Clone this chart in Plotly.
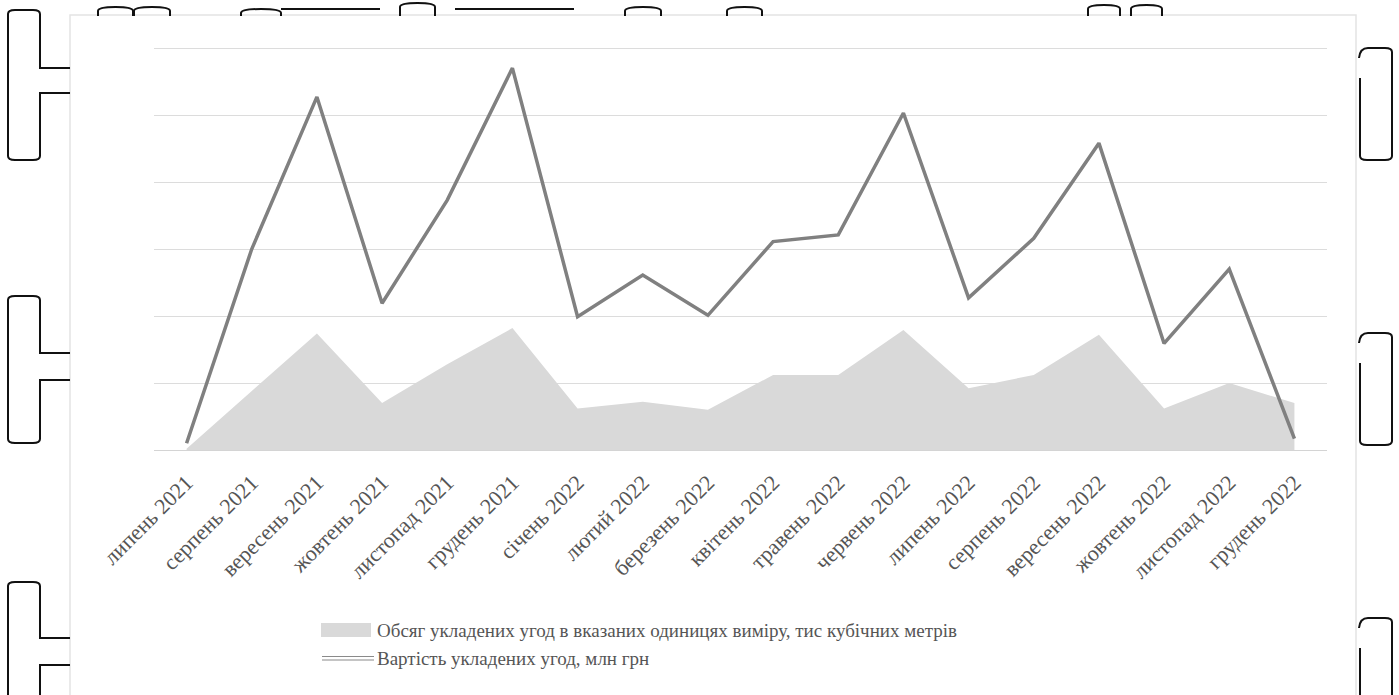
import plotly.graph_objects as go

W, H = 1399, 695

months = [
    "липень 2021", "серпень 2021", "вересень 2021", "жовтень 2021",
    "листопад 2021", "грудень 2021", "січень 2022", "лютий 2022",
    "березень 2022", "квітень 2022", "травень 2022", "червень 2022",
    "липень 2022", "серпень 2022", "вересень 2022", "жовтень 2022",
    "листопад 2022", "грудень 2022",
]

# Обсяг укладених угод, тис кубічних метрів (area series)
volume = [0.02, 0.88, 1.74, 0.70, 1.28, 1.82, 0.62, 0.72, 0.60,
          1.12, 1.12, 1.79, 0.92, 1.12, 1.72, 0.62, 1.00, 0.70]

# Вартість укладених угод, млн грн (line series)
value = [0.10, 3.00, 5.27, 2.19, 3.73, 5.70, 1.99, 2.61, 2.01,
         3.11, 3.21, 5.03, 2.27, 3.16, 4.58, 1.59, 2.70, 0.17]

volume_name = "Обсяг укладених угод в вказаних одиницях виміру, тис кубічних метрів"
value_name = "Вартість укладених угод, млн грн"

FONT = "Liberation Serif"
TEXT_GRAY = "#555555"
AREA_GRAY = "#d9d9d9"
LINE_GRAY = "#808080"

Y_MAX = 6.02  # a little headroom so the top gridline at 6 is drawn


def px(x):
    return x / W


def py(y):
    return 1 - y / H


fig = go.Figure()
fig.add_trace(go.Scatter(
    x=months, y=volume, name=volume_name, mode="lines",
    line=dict(width=0, color=AREA_GRAY), fill="tozeroy", fillcolor=AREA_GRAY,
))
fig.add_trace(go.Scatter(
    x=months, y=value, name=value_name, mode="lines",
    line=dict(width=3.5, color=LINE_GRAY),
))

shapes = []

# chart frame
shapes.append(dict(type="rect", xref="paper", yref="paper",
                   x0=px(70), x1=px(1356), y0=py(720), y1=py(15),
                   line=dict(color="#e4e4e4", width=1.5), layer="below"))


def path_from(points):
    parts = []
    for cmd, pts in points:
        coords = " ".join(f"{px(a):.5f},{py(b):.5f}" for a, b in pts)
        parts.append(f"{cmd} {coords}")
    return " ".join(parts)


BLACK = dict(color="#111111", width=2)

# left-hand handle brackets
for top, n1, n2, bot in [(10, 68, 93, 160), (296, 353, 380, 443), (582, 638, 665, 730)]:
    p = path_from([
        ("M", [(70, n1)]), ("L", [(40, n1)]), ("L", [(40, top + 4)]),
        ("Q", [(40, top), (33, top)]), ("L", [(15, top)]),
        ("Q", [(8, top), (8, top + 4)]), ("L", [(8, bot - 4)]),
        ("Q", [(8, bot), (15, bot)]), ("L", [(33, bot)]),
        ("Q", [(40, bot), (40, bot - 4)]), ("L", [(40, n2)]), ("L", [(70, n2)]),
    ])
    shapes.append(dict(type="path", xref="paper", yref="paper", path=p, line=BLACK))

# right-hand handle brackets
for top, bot in [(48, 160), (333, 445), (618, 730)]:
    p = path_from([
        ("M", [(1360, top + 30)]), ("L", [(1360, bot - 4)]),
        ("Q", [(1360, bot), (1367, bot)]), ("L", [(1385, bot)]),
        ("Q", [(1392, bot), (1392, bot - 4)]), ("L", [(1392, top + 4)]),
        ("Q", [(1392, top), (1385, top)]), ("L", [(1368, top)]),
        ("Q", [(1360, top), (1359, top + 10)]),
    ])
    shapes.append(dict(type="path", xref="paper", yref="paper", path=p, line=BLACK))

# small arcs and strokes along the top edge
for x0, x1, h in [(98, 133, 9), (134, 170, 9), (241, 281, 7), (400, 435, 13),
                  (625, 661, 9), (727, 762, 9), (1088, 1120, 11), (1131, 1162, 11)]:
    p = path_from([
        ("M", [(x0, 16)]), ("L", [(x0, 16 - h + 4)]),
        ("Q", [(x0, 16 - h), ((x0 + x1) / 2, 16 - h)]),
        ("Q", [(x1, 16 - h), (x1, 16 - h + 4)]), ("L", [(x1, 16)]),
    ])
    shapes.append(dict(type="path", xref="paper", yref="paper", path=p, line=BLACK))
for x0, x1 in [(281, 380), (455, 574)]:
    shapes.append(dict(type="line", xref="paper", yref="paper",
                       x0=px(x0), x1=px(x1), y0=py(9), y1=py(9), line=BLACK))

# legend swatches
shapes.append(dict(type="rect", xref="paper", yref="paper",
                   x0=px(321), x1=px(371), y0=py(637), y1=py(623),
                   fillcolor=AREA_GRAY, line=dict(width=0)))
for yy in (656.5, 660):
    shapes.append(dict(type="line", xref="paper", yref="paper",
                       x0=px(322), x1=px(374), y0=py(yy), y1=py(yy),
                       line=dict(color="#8a8a8a", width=1.2)))

annotations = [
    dict(text=volume_name, xref="paper", yref="paper", x=px(375), y=py(630),
         xanchor="left", yanchor="middle", showarrow=False,
         font=dict(family=FONT, size=19, color=TEXT_GRAY)),
    dict(text=value_name, xref="paper", yref="paper", x=px(375), y=py(658),
         xanchor="left", yanchor="middle", showarrow=False,
         font=dict(family=FONT, size=19, color=TEXT_GRAY)),
]

fig.update_layout(
    width=W, height=H,
    margin=dict(l=0, r=0, t=0, b=0, autoexpand=False),
    paper_bgcolor="white", plot_bgcolor="white",
    showlegend=False, hovermode=False,
    font=dict(family=FONT),
    shapes=shapes, annotations=annotations,
    xaxis=dict(
        domain=[px(154), px(1327)], range=[-0.5, 17.5],
        automargin=False,
        showgrid=False, zeroline=False,
        showline=True, linecolor="#d4d4d4", linewidth=1,
        ticks="", tickangle=-45, ticklabelstandoff=10,
        tickfont=dict(family=FONT, size=22, color=TEXT_GRAY),
    ),
    yaxis=dict(
        domain=[py(450), py(450 - 67 * Y_MAX)], range=[0, Y_MAX], dtick=1,
        automargin=False,
        showticklabels=False, zeroline=False,
        showgrid=True, gridcolor="#dcdcdc", gridwidth=1,
    ),
)

fig.write_html("out.html")
